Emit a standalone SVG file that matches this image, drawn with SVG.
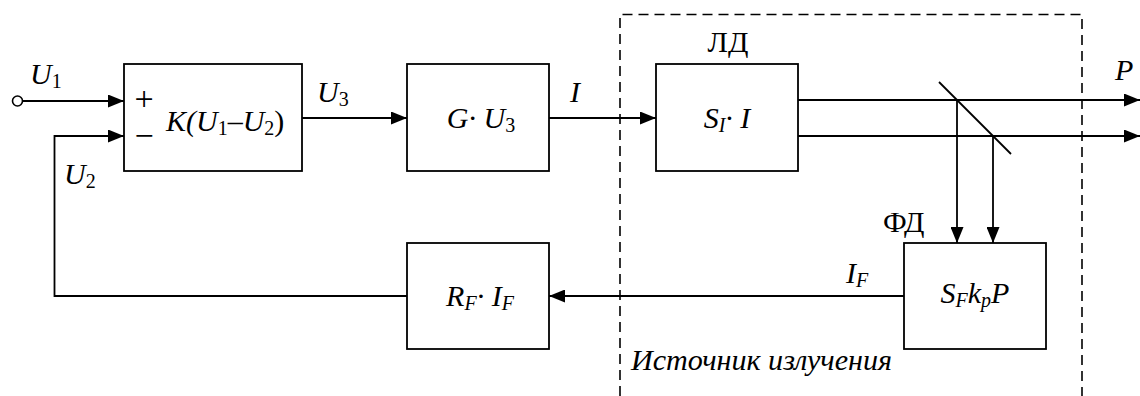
<svg xmlns="http://www.w3.org/2000/svg" width="1140" height="396" viewBox="0 0 1140 396">
<defs>
<style>
.box{fill:#fff;stroke:#000;stroke-width:1.8}
.ln{fill:none;stroke:#000;stroke-width:1.8}
.dash{fill:none;stroke:#000;stroke-width:1.6;stroke-dasharray:10 6}
</style>
<marker id="ah" viewBox="0 0 16 13" refX="16" refY="6.5" markerWidth="16" markerHeight="13" markerUnits="userSpaceOnUse" orient="auto">
<path d="M0,0 L16,6.5 L0,13 Z" fill="#000"/>
</marker>
</defs>
<rect width="1140" height="396" fill="#fff"/>
<g font-family="Liberation Serif, DejaVu Serif, serif" font-size="30" fill="#000">
<g id="frame">
<path class="dash" d="M620,396 V14.5 H1082 V396"/>
<text x="631" y="370" font-style="italic" font-size="30" textLength="261" lengthAdjust="spacingAndGlyphs">Источник излучения</text>
</g>
<g id="connectors">
<path class="ln" d="M23,101 H124" marker-end="url(#ah)"/>
<path class="ln" d="M407,296 H54.5 V136 H124" marker-end="url(#ah)"/>
<path class="ln" d="M302,118 H407" marker-end="url(#ah)"/>
<path class="ln" d="M549,118 H656" marker-end="url(#ah)"/>
<path class="ln" d="M798,100 H1140" marker-end="url(#ah)"/>
<path class="ln" d="M798,136 H1140" marker-end="url(#ah)"/>
<path class="ln" d="M939,82 L1011,154"/>
<path class="ln" d="M957,100 V243" marker-end="url(#ah)"/>
<path class="ln" d="M993,136 V243" marker-end="url(#ah)"/>
<path class="ln" d="M904,296 H549" marker-end="url(#ah)"/>
<circle cx="17.5" cy="101" r="5" fill="#fff" stroke="#000" stroke-width="1.6"/>
<text x="30" y="84" font-style="italic">U<tspan font-style="normal" font-size="20" dy="4">1</tspan></text>
<text x="64" y="184" font-style="italic">U<tspan font-style="normal" font-size="20" dy="4">2</tspan></text>
<text x="317" y="102" font-style="italic">U<tspan font-style="normal" font-size="20" dy="4">3</tspan></text>
<text x="570" y="102" font-style="italic">I</text>
<text x="1115" y="80" font-style="italic">P</text>
<text x="846" y="283" font-style="italic">I<tspan font-size="20" dy="4">F</tspan></text>
</g>
<g id="n1">
<rect class="box" x="124" y="64" width="178" height="107"/>
<text x="144" y="110" text-anchor="middle" font-size="34">+</text>
<text x="144" y="147" text-anchor="middle" font-size="34">−</text>
<text x="166" y="131" font-style="italic">K(U<tspan font-style="normal" font-size="20" dy="4">1</tspan><tspan dy="-4" font-style="normal">–</tspan>U<tspan font-style="normal" font-size="20" dy="4">2</tspan><tspan dy="-4" font-style="normal">)</tspan></text>
</g>
<g id="n2">
<rect class="box" x="407" y="64" width="142" height="107"/>
<text x="481" y="128" text-anchor="middle" font-style="italic">G· U<tspan font-style="normal" font-size="20" dy="4">3</tspan></text>
</g>
<g id="n3">
<rect class="box" x="656" y="64" width="142" height="107"/>
<text x="728" y="52" text-anchor="middle">ЛД</text>
<text x="727" y="128" text-anchor="middle" font-style="italic">S<tspan font-size="20" dy="4">I</tspan><tspan dy="-4">· I</tspan></text>
</g>
<g id="n4">
<rect class="box" x="904" y="243" width="142" height="106"/>
<text x="883" y="232">ФД</text>
<text x="975" y="303" text-anchor="middle" font-style="italic">S<tspan font-size="20" dy="4">F</tspan><tspan dy="-4">k</tspan><tspan font-size="20" dy="4">p</tspan><tspan dy="-4">P</tspan></text>
</g>
<g id="n5">
<rect class="box" x="407" y="243" width="142" height="106"/>
<text x="480" y="306" text-anchor="middle" font-style="italic">R<tspan font-size="20" dy="4">F</tspan><tspan dy="-4">· I</tspan><tspan font-size="20" dy="4">F</tspan></text>
</g>
</g>
</svg>
